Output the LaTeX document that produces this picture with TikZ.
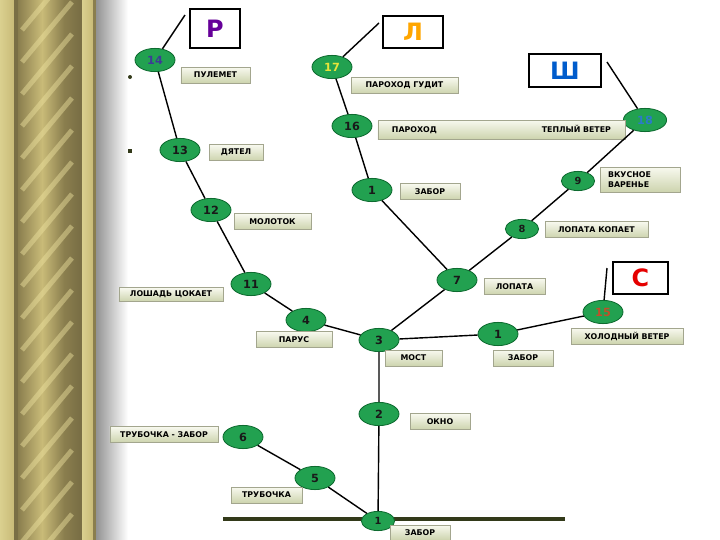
\documentclass[tikz,border=0pt]{standalone}
\usepackage{fontspec}
\setmainfont{DejaVu Sans}
\usepackage{xcolor}
\usetikzlibrary{shapes.geometric}
\definecolor{leaf}{HTML}{22A150}
\definecolor{leafd}{HTML}{0E6B30}
\definecolor{labt}{HTML}{F8F9EF}
\definecolor{labb}{HTML}{CDD4AE}
\definecolor{labd}{HTML}{A3A68E}
\definecolor{goldA}{HTML}{DAD08F}
\definecolor{goldB}{HTML}{8A7E4E}
\definecolor{goldC}{HTML}{C9BB78}
\definecolor{goldD}{HTML}{7A6F45}
\definecolor{streak}{HTML}{EEE3A0}
\definecolor{ground}{HTML}{333A1A}

\begin{document}
\begin{tikzpicture}[x=0.25mm,y=-0.25mm,
  n/.style={ellipse,draw=leafd,fill=leaf,line width=0.6pt,minimum width=10mm,minimum height=5.8mm,
    inner sep=0pt,text=black!90,font=\fontsize{8}{8}\selectfont\bfseries},
  ns/.style={n,minimum width=8.3mm,minimum height=4.8mm,font=\fontsize{7}{7}\selectfont\bfseries},
  l/.style={draw=labd,top color=labt,bottom color=labb,minimum height=4mm,inner sep=0pt,
    font=\fontsize{5.6}{6.8}\selectfont\bfseries},
  lb/.style={draw=black,line width=1.2pt,fill=white,inner sep=0pt,font=\fontsize{17}{17}\selectfont\bfseries},
  e/.style={line width=1pt}]
\useasboundingbox (0,0) rectangle (720,540);
% frame on the left
\shade[left color=goldA,right color=goldC] (0,0) rectangle (14,540);
\fill[goldD] (14,0) rectangle (18,540);
\shade[left color=goldB,right color=goldC] (18,0) rectangle (42,540);
\shade[left color=goldC,right color=goldB] (42,0) rectangle (64,540);
\shade[left color=goldB,right color=goldD] (64,0) rectangle (79,540);
\fill[goldD] (79,0) rectangle (82,540);
\shade[left color=goldA,right color=goldC] (82,0) rectangle (93,540);
\fill[goldB] (93,0) rectangle (96,540);
\shade[left color=gray!85,right color=white] (96,0) rectangle (128,540);
\begin{scope}
  \clip (18,0) rectangle (79,540);
  \foreach \k in {0,...,19} \draw[line width=3.5pt,streak,opacity=.45] (22,32*\k+30) -- (72,32*\k-30);
\end{scope}
\fill[ground] (130,77) circle (2);
\fill[ground] (128,149) rectangle (132,153);
% ground line
\coordinate (gl) at (223,519); \coordinate (gr) at (565,519);
\draw[ground,line width=2.2pt] (gl)--(gr);
% stems
\node[n] (n14) at (155,60) {\textcolor[HTML]{3C3C96}{14}};
\node[n] (n13) at (180,150) {13};
\node[n] (n12) at (211,210) {12};
\node[n] (n11) at (251,284) {11};
\node[n] (n4) at (306,320) {4};
\node[n] (n3) at (379,340) {3};
\node[n] (n2) at (379,414) {2};
\node[ns] (n1b) at (378,521) {1};
\node[n] (n5) at (315,478) {5};
\node[n] (n6) at (243,437) {6};
\node[n] (n7) at (457,280) {7};
\node[n] (n1a) at (372,190) {1};
\node[n] (n16) at (352,126) {16};
\node[n] (n17) at (332,67) {\textcolor[HTML]{E8E43A}{17}};
\node[ns] (n8) at (522,229) {8};
\node[ns] (n9) at (578,181) {9};
\node[n,minimum width=10.8mm] (n18) at (645,120) {\textcolor[HTML]{2B7BC8}{18}};
\node[n] (n1c) at (498,334) {1};
\node[n] (n15) at (603,312) {\textcolor[HTML]{C0502A}{15}};
% letters
\node[lb,minimum width=12.5mm,minimum height=9.75mm,text=violet!80!blue] (lr) at (215,28.5) {Р};
\node[lb,minimum width=15mm,minimum height=8mm,text=orange!70!yellow] (ll) at (413,32) {Л};
\node[lb,minimum width=18mm,minimum height=8.25mm,text=blue!55!cyan!80!black] (lsh) at (565,70.5) {Ш};
\node[lb,minimum width=13.75mm,minimum height=8mm,text=red!90!black] (ls) at (640.5,278) {С};
\coordinate (pr) at (185,15); \coordinate (pl) at (379,23);
\coordinate (psh) at (607,62); \coordinate (ps) at (607,268);
% labels
\node[l,minimum width=17.25mm] (t14) at (215.5,75) {ПУЛЕМЕТ};
\node[l,minimum width=13.5mm] (t13) at (236,152.5) {ДЯТЕЛ};
\node[l,minimum width=19.25mm] (t12) at (272.5,221.5) {МОЛОТОК};
\node[l,minimum width=26mm,minimum height=3.4mm] (t11) at (171,294.5) {ЛОШАДЬ ЦОКАЕТ};
\node[l,minimum width=19mm] (t4) at (294,339.5) {ПАРУС};
\node[l,minimum width=14.25mm] (t3) at (413.5,358) {МОСТ};
\node[l,minimum width=15mm] (t1c) at (523,358) {ЗАБОР};
\node[l,minimum width=15mm] (t2) at (440,421.5) {ОКНО};
\node[l,minimum width=27mm] (t6) at (164,434.5) {ТРУБОЧКА - ЗАБОР};
\node[l,minimum width=17.75mm] (t5) at (266.5,495) {ТРУБОЧКА};
\node[l,minimum width=15mm,minimum height=3.75mm] (t1b) at (420,532.5) {ЗАБОР};
\node[l,minimum width=15.25mm] (t7) at (514.5,286.5) {ЛОПАТА};
\node[l,minimum width=28mm] (t15) at (627,336) {ХОЛОДНЫЙ ВЕТЕР};
\node[l,minimum width=25.75mm] (t8) at (596.5,229.5) {ЛОПАТА КОПАЕТ};
\node[l,minimum height=6.25mm,inner xsep=2mm,text width=16mm,align=left] (t9) at (640,179.5) {ВКУСНОЕ\\ВАРЕНЬЕ};
\node[l,minimum width=15mm] (t1a) at (430,191.5) {ЗАБОР};
\node[l,minimum width=26.75mm] (t17) at (404.5,85.5) {ПАРОХОД ГУДИТ};
\node[l,minimum height=4.75mm,inner xsep=3.5mm,text width=54.75mm] (t16) at (501.5,129.5) {ПАРОХОД\hfill ТЕПЛЫЙ ВЕТЕР};
% branches
\draw[e] (n14)--(n13)--(n12)--(n11)--(n4)--(n3);
\draw[e] (n3)--(n2)--(n1b); \draw[e] (n1b)--(n5)--(n6);
\draw[e] (n3)--(n7); \draw[e] (n7)--(n1a)--(n16)--(n17);
\draw[e] (n7)--(n8)--(n9)--(n18); \draw[e] (n3)--(n1c)--(n15);
\draw[e] (n14)--(pr); \draw[e] (n17)--(pl); \draw[e] (n18)--(psh); \draw[e] (n15)--(ps);
\end{tikzpicture}
\end{document}
